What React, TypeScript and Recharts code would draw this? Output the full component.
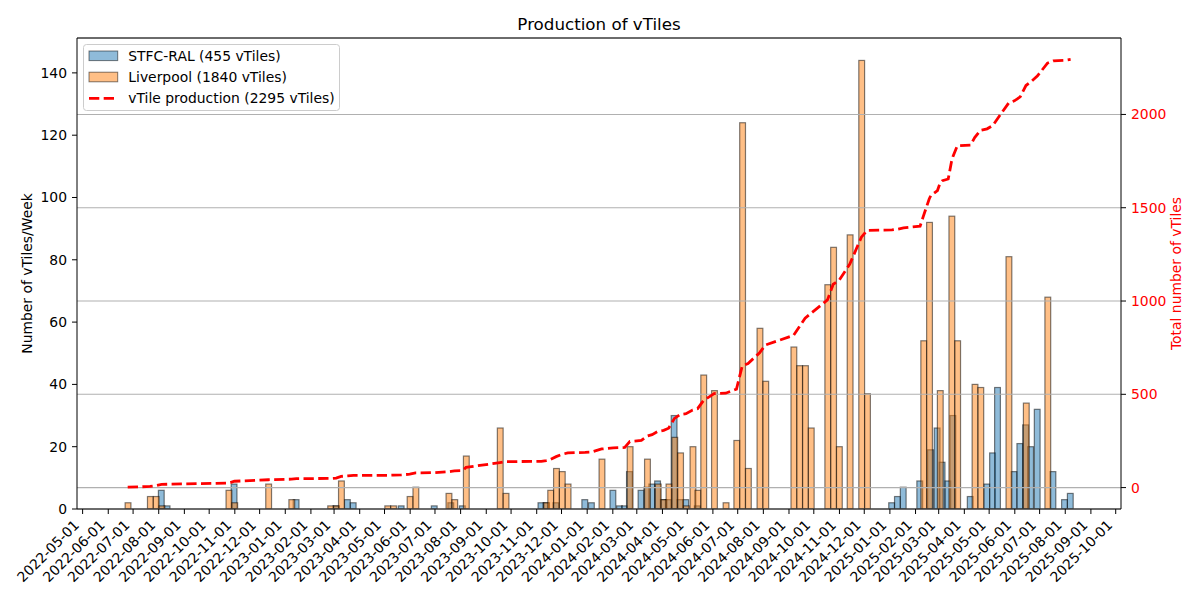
import { ComposedChart, Bar, Line, XAxis, YAxis, CartesianGrid } from 'recharts';

const FONT = '"DejaVu Sans", Verdana, sans-serif';

// month ticks on the date axis
const monthTicks = [
  '2022-05-01', '2022-06-01', '2022-07-01', '2022-08-01', '2022-09-01', '2022-10-01',
  '2022-11-01', '2022-12-01', '2023-01-01', '2023-02-01', '2023-03-01', '2023-04-01',
  '2023-05-01', '2023-06-01', '2023-07-01', '2023-08-01', '2023-09-01', '2023-10-01',
  '2023-11-01', '2023-12-01', '2024-01-01', '2024-02-01', '2024-03-01', '2024-04-01',
  '2024-05-01', '2024-06-01', '2024-07-01', '2024-08-01', '2024-09-01', '2024-10-01',
  '2024-11-01', '2024-12-01', '2025-01-01', '2025-02-01', '2025-03-01', '2025-04-01',
  '2025-05-01', '2025-06-01', '2025-07-01', '2025-08-01', '2025-09-01', '2025-10-01',
];
const leftTicks = [0, 20, 40, 60, 80, 100, 120, 140];
const rightTicks = [0, 500, 1000, 1500, 2000];

// STFC-RAL weekly production (week start, vTiles)
const stfcWeeks = [
  '2022-08-01', '2022-08-08', '2022-10-28', '2023-01-11', '2023-02-28', '2023-03-14',
  '2023-03-21', '2023-05-18', '2023-06-27', '2023-07-17', '2023-07-31', '2023-11-03',
  '2023-11-09', '2023-11-21', '2023-12-26', '2024-01-03', '2024-01-29', '2024-02-06',
  '2024-02-12', '2024-02-18', '2024-03-03', '2024-03-10', '2024-03-16', '2024-03-23',
  '2024-03-30', '2024-04-05', '2024-04-12', '2024-04-19', '2024-04-26', '2024-05-10',
  '2024-12-31', '2025-01-07', '2025-01-14', '2025-02-03', '2025-02-16', '2025-02-24',
  '2025-03-02', '2025-03-09', '2025-03-15', '2025-04-05', '2025-04-25', '2025-05-02',
  '2025-05-08', '2025-05-28', '2025-06-04', '2025-06-11', '2025-06-17', '2025-06-25',
  '2025-07-14', '2025-07-28', '2025-08-04',
];
const stfcCounts = [
  6, 1, 8, 3, 1, 3,
  2, 1, 1, 2, 1, 2,
  2, 2, 3, 2, 6, 1,
  1, 12, 6, 7, 8, 9,
  3, 3, 30, 3, 3, 1,
  2, 4, 7, 9, 19, 26,
  15, 9, 30, 4, 8, 18,
  39, 12, 21, 27, 20, 32,
  12, 3, 5,
];

// Liverpool weekly production (week start, vTiles)
const livWeeks = [
  '2022-06-21', '2022-07-18', '2022-07-25', '2022-08-01', '2022-10-21', '2022-10-28',
  '2022-12-08', '2023-01-05', '2023-02-21', '2023-02-28', '2023-03-06', '2023-05-01',
  '2023-05-08', '2023-05-28', '2023-06-04', '2023-07-14', '2023-07-21', '2023-08-04',
  '2023-09-14', '2023-09-21', '2023-11-09', '2023-11-14', '2023-11-21', '2023-11-28',
  '2023-12-05', '2024-01-15', '2024-02-18', '2024-03-10', '2024-03-23', '2024-03-30',
  '2024-04-05', '2024-04-12', '2024-04-19', '2024-04-26', '2024-05-04', '2024-05-10',
  '2024-05-17', '2024-05-30', '2024-06-13', '2024-06-26', '2024-07-03', '2024-07-10',
  '2024-07-24', '2024-07-31', '2024-09-03', '2024-09-10', '2024-09-17', '2024-09-24',
  '2024-10-14', '2024-10-21', '2024-10-28', '2024-11-10', '2024-11-24', '2024-12-01',
  '2025-02-07', '2025-02-14', '2025-02-27', '2025-03-13', '2025-03-20', '2025-04-10',
  '2025-04-17', '2025-05-21', '2025-06-11', '2025-07-07',
];
const livCounts = [
  2, 4, 4, 1, 6, 2,
  8, 3, 1, 1, 9, 1,
  1, 4, 7, 5, 3, 17,
  26, 5, 2, 6, 13, 12,
  8, 16, 20, 16, 8, 3,
  8, 23, 18, 1, 20, 6,
  43, 38, 2, 22, 124, 13,
  58, 41, 52, 46, 46, 26,
  72, 84, 20, 88, 144, 37,
  54, 92, 38, 94, 54, 40,
  39, 81, 34, 68,
];

const DAY_MS = 86400000;
const EPOCH = Date.parse('2022-05-01');
const toDay = (s: string) => (Date.parse(s) - EPOCH) / DAY_MS;

const CHART_W = 1184;
const CHART_H = 584;
const LEFT_W = 69;
const RIGHT_W = 71;
const X_DOMAIN: [number, number] = [-6.8, 1255.4];
const PLOT_W = CHART_W - LEFT_W - RIGHT_W;
const BAR_W = (7 * PLOT_W) / (X_DOMAIN[1] - X_DOMAIN[0]);

type Row = { x: number; stfc?: number; liv?: number; cum: number };

function buildRows(): Row[] {
  const byDate = new Map<string, Row>();
  const add = (dates: string[], counts: number[], key: 'stfc' | 'liv') => {
    dates.forEach((d, i) => {
      const row = byDate.get(d) ?? { x: toDay(d) + 3.5, cum: 0 };
      row[key] = counts[i];
      byDate.set(d, row);
    });
  };
  add(stfcWeeks, stfcCounts, 'stfc');
  add(livWeeks, livCounts, 'liv');
  const rows = [...byDate.values()].sort((a, b) => a.x - b.x);
  let total = 0;
  rows.forEach((r) => {
    total += (r.stfc ?? 0) + (r.liv ?? 0);
    r.cum = total;
  });
  return rows;
}

const rows = buildRows();
const tickDays = monthTicks.map(toDay);
const stfcTotal = stfcCounts.reduce((a, b) => a + b, 0);
const livTotal = livCounts.reduce((a, b) => a + b, 0);

// bars are one week wide, centred on the position recharts gives them
const weekBar = (color: string, key: 'stfc' | 'liv') => (props: any) => {
  const { x, y, width, height, payload } = props;
  if (!payload || !payload[key] || !height) return <g />;
  const cx = x + width / 2;
  return (
    <rect
      x={cx - BAR_W / 2}
      y={y}
      width={BAR_W}
      height={height}
      fill={color}
      fillOpacity={0.5}
      stroke="#000"
      strokeOpacity={0.5}
      strokeWidth={1.2}
    />
  );
};

const DateTick = (props: any) => {
  const { x, y, payload } = props;
  const idx = tickDays.findIndex((d) => Math.abs(d - payload.value) < 0.01);
  return (
    <text
      transform={`translate(${x - 2.5},${y + 12}) rotate(-45)`}
      textAnchor="end"
      fontSize={13.9}
      fontFamily={FONT}
      fill="#000"
    >
      {idx >= 0 ? monthTicks[idx] : ''}
    </text>
  );
};

const ChartTitle = ({ viewBox }: any) => (
  <text
    x={viewBox.x + viewBox.width / 2}
    y={viewBox.y + viewBox.height - 8.3}
    textAnchor="middle"
    fontSize={16.7}
    fontFamily={FONT}
    fill="#000"
  >
    Production of vTiles
  </text>
);

const LeftTitle = ({ viewBox }: any) => (
  <text
    transform={`translate(${viewBox.x + 24},${viewBox.y + viewBox.height / 2}) rotate(-90)`}
    textAnchor="middle"
    fontSize={13.9}
    fontFamily={FONT}
    fill="#000"
  >
    Number of vTiles/Week
  </text>
);

const RightTitle = ({ viewBox }: any) => (
  <text
    transform={`translate(${viewBox.x + 60},${viewBox.y + viewBox.height / 2}) rotate(-90)`}
    textAnchor="middle"
    fontSize={13.9}
    fontFamily={FONT}
    fill="#ff0000"
  >
    Total number of vTiles
  </text>
);

function LegendBox() {
  const rowsY = [11.8, 33, 54.3];
  const textStyle = { fontSize: 13.9, fontFamily: FONT, fill: '#000' };
  return (
    <svg
      width={258}
      height={68}
      style={{ position: 'absolute', left: 75, top: 36, overflow: 'visible' }}
    >
      <rect x={0.5} y={0.5} width={256} height={66} rx={3} fill="#fff" fillOpacity={0.8} stroke="#cccccc" />
      <rect x={6} y={rowsY[0] - 4.8} width={28.7} height={9.6} fill="#1f77b4" fillOpacity={0.5} stroke="#000" strokeOpacity={0.5} />
      <rect x={6} y={rowsY[1] - 4.8} width={28.7} height={9.6} fill="#ff7f0e" fillOpacity={0.5} stroke="#000" strokeOpacity={0.5} />
      <line x1={6} x2={34.7} y1={rowsY[2]} y2={rowsY[2]} stroke="#ff0000" strokeWidth={2.8} strokeDasharray="10.3 4.4" />
      <text x={45.3} y={rowsY[0] + 4.9} {...textStyle}>{`STFC-RAL (${stfcTotal} vTiles)`}</text>
      <text x={45.3} y={rowsY[1] + 4.9} {...textStyle}>{`Liverpool (${livTotal} vTiles)`}</text>
      <text x={45.3} y={rowsY[2] + 4.9} {...textStyle}>{`vTile production (${stfcTotal + livTotal} vTiles)`}</text>
    </svg>
  );
}

export default function App() {
  const tickStyle = { fill: '#000', fontSize: 13.9, fontFamily: FONT };
  return (
    <div style={{ position: 'relative', width: CHART_W, height: CHART_H }}>
      <ComposedChart
        width={CHART_W}
        height={CHART_H}
        data={rows}
        margin={{ top: 29, right: 0, bottom: 0, left: 0 }}
      >
        <XAxis
          type="number"
          dataKey="x"
          domain={X_DOMAIN}
          allowDataOverflow
          ticks={tickDays}
          interval={0}
          height={83}
          tickSize={5}
          tickMargin={0}
          stroke="#000"
          tick={<DateTick />}
        />
        <XAxis
          xAxisId="top"
          orientation="top"
          type="number"
          dataKey="x"
          domain={X_DOMAIN}
          allowDataOverflow
          height={1}
          ticks={[]}
          tick={false}
          tickLine={false}
          stroke="#000"
          label={<ChartTitle />}
        />
        <YAxis
          yAxisId="left"
          domain={[0, 151.2]}
          allowDataOverflow
          ticks={leftTicks}
          interval={0}
          width={LEFT_W}
          tickSize={5}
          tickMargin={5}
          stroke="#000"
          tick={tickStyle}
          label={<LeftTitle />}
        />
        <YAxis
          yAxisId="right"
          orientation="right"
          domain={[-114.75, 2409.75]}
          allowDataOverflow
          ticks={rightTicks}
          interval={0}
          width={RIGHT_W}
          tickSize={5}
          tickMargin={5}
          stroke="#000"
          tick={{ ...tickStyle, fill: '#ff0000' }}
          label={<RightTitle />}
        />
        <Bar
          yAxisId="left"
          dataKey="stfc"
          name="STFC-RAL"
          shape={weekBar('#1f77b4', 'stfc')}
          isAnimationActive={false}
        />
        <Bar
          yAxisId="left"
          dataKey="liv"
          name="Liverpool"
          shape={weekBar('#ff7f0e', 'liv')}
          isAnimationActive={false}
        />
        <CartesianGrid
          yAxisId="right"
          vertical={false}
          stroke="#b0b0b0"
          strokeWidth={1.1}
          zIndex={350}
        />
        <Line
          yAxisId="right"
          dataKey="cum"
          name="vTile production"
          type="linear"
          stroke="#ff0000"
          strokeWidth={2.8}
          strokeDasharray="10.3 4.4"
          dot={false}
          activeDot={false}
          isAnimationActive={false}
        />
      </ComposedChart>
      <LegendBox />
    </div>
  );
}
